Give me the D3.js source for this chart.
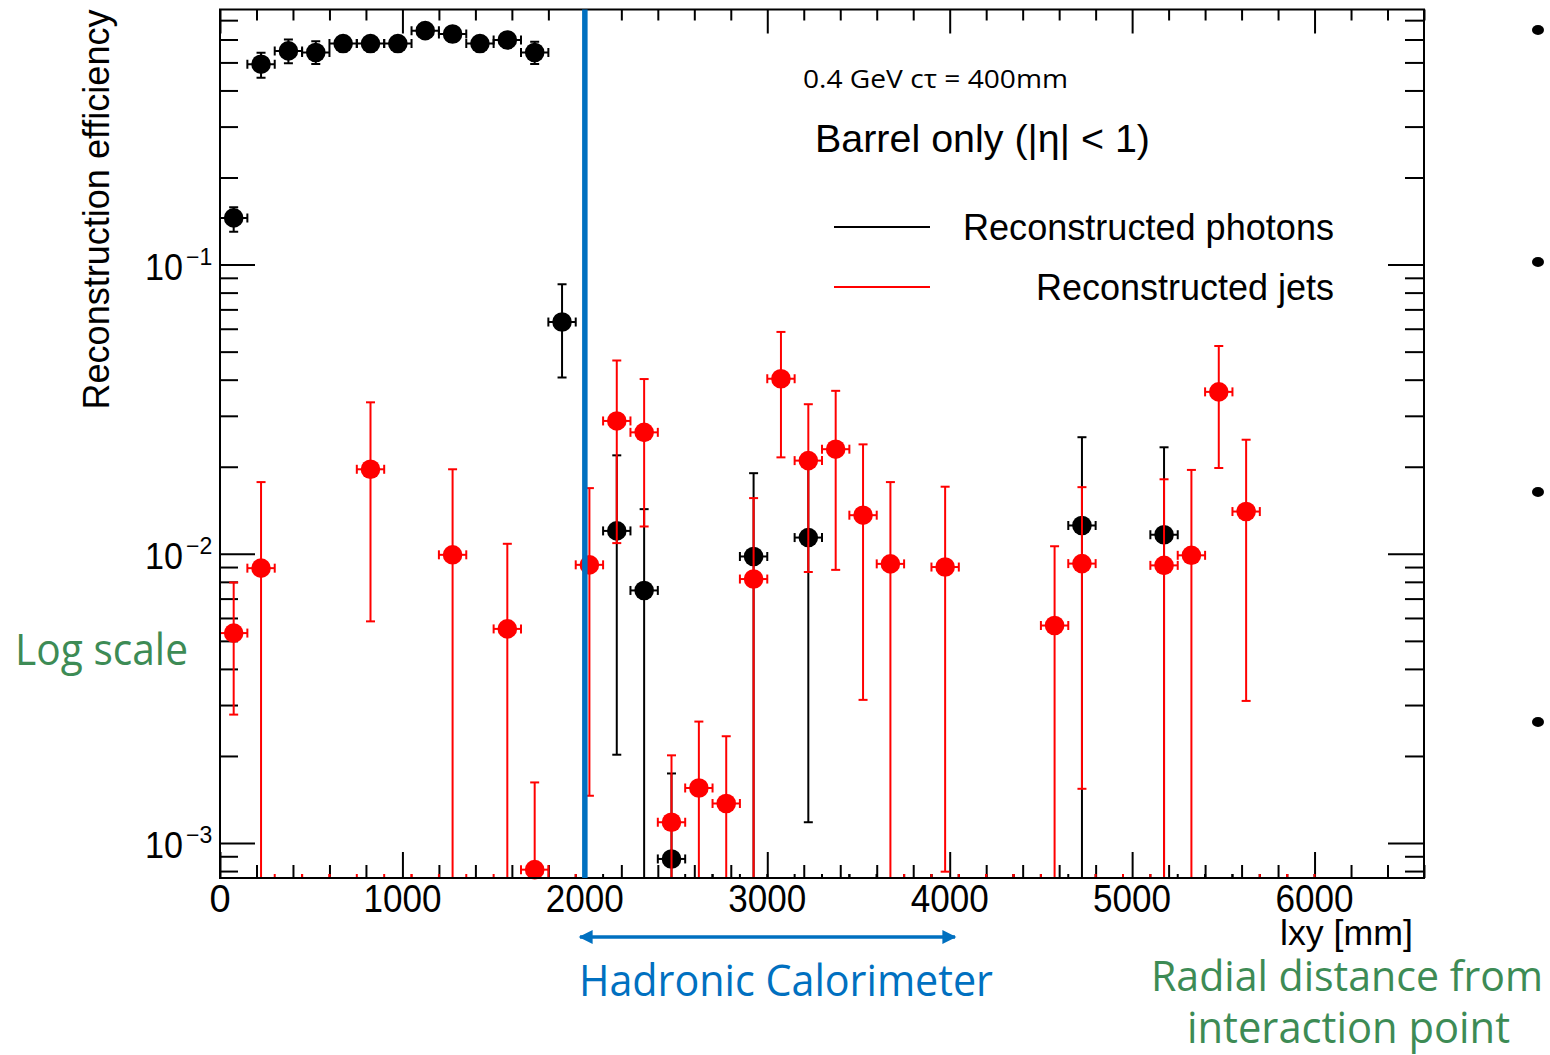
<!DOCTYPE html>
<html>
<head>
<meta charset="utf-8">
<script src="https://cdn.jsdelivr.net/npm/d3@7"></script>
<style>
  body { margin: 0; background: #fff; }
  text { font-family: "Liberation Sans", Arial, sans-serif; }
  .note { font-family: "Open Sans", "Noto Sans", sans-serif; }
</style>
</head>
<body>
<div id="chart"></div>
<script>
// bin centers (mm), efficiency, upper / lower edge of error bar (0 = down to axis)
var photonX  = [75, 225, 375, 525, 675, 825, 975, 1125, 1275, 1425, 1575, 1725, 1875, 2175, 2325, 2475, 2925, 3225, 4725, 5175];
var photonY  = [0.145, 0.493, 0.548, 0.541, 0.581, 0.581, 0.581, 0.644, 0.627, 0.581, 0.598, 0.541, 0.0633, 0.0120, 0.00747, 0.000881, 0.00979, 0.01138, 0.01253, 0.01164];
var photonHi = [0.158, 0.540, 0.600, 0.592, 0.615, 0.615, 0.615, 0.680, 0.662, 0.615, 0.632, 0.590, 0.0855, 0.0219, 0.01427, 0.00174, 0.0190, 0.0215, 0.0253, 0.02335];
var photonLo = [0.130, 0.443, 0.497, 0.494, 0.545, 0.545, 0.545, 0.608, 0.590, 0.545, 0.562, 0.494, 0.0407, 0.00202, 0, 0, 0, 0.00118, 0, 0];
var photonZeroX = [2025, 2625, 2775, 3075, 3375, 3525, 3675, 3825, 3975, 4125, 4275, 4425, 4575, 4875, 5025, 5325, 5475, 5625, 5775, 5925];

var jetX  = [75, 225, 825, 1275, 1575, 1725, 2025, 2175, 2325, 2475, 2625, 2775, 2925, 3075, 3225, 3375, 3525, 3675, 3975, 4575, 4725, 5175, 5325, 5475, 5625];
var jetY  = [0.00532, 0.00892, 0.0196, 0.00992, 0.0055, 0.000809, 0.00916, 0.0288, 0.0263, 0.00118, 0.00155, 0.00137, 0.00818, 0.0403, 0.0210, 0.0230, 0.0136, 0.00923, 0.0090, 0.00565, 0.00925, 0.00912, 0.00988, 0.0363, 0.0140];
var jetHi = [0.00796, 0.0177, 0.0334, 0.0196, 0.01083, 0.00162, 0.01687, 0.0466, 0.0402, 0.00201, 0.00263, 0.00234, 0.01558, 0.0585, 0.0329, 0.0366, 0.0239, 0.0177, 0.01706, 0.01062, 0.0170, 0.0181, 0.0195, 0.0523, 0.0248];
var jetLo = [0.00278, 0, 0.00584, 0, 0, 0, 0.001457, 0.01089, 0.01243, 0, 0, 0, 0, 0.02155, 0.00865, 0.0088, 0.003126, 0, 0.000796, 0, 0.00154, 0, 0, 0.0198, 0.0031];
var jetZeroX = [375, 525, 675, 975, 1125, 1425, 1875, 3825, 4125, 4275, 4425, 4875, 5025, 5775, 5925];

var binHalf = 75;
var xMajor = [0, 1000, 2000, 3000, 4000, 5000, 6000];
var xLabels = ["0", "1000", "2000", "3000", "4000", "5000", "6000"];
var yMajor = [0.1, 0.01, 0.001];
var yExp = ["\u22121", "\u22122", "\u22123"];

var svgWidth = 1550, svgHeight = 1055;
var frame = { left: 220, right: 1424, top: 9.5, bottom: 878 };

var svg = d3.select("#chart").append("svg")
    .attr("width", svgWidth)
    .attr("height", svgHeight);

var x = d3.scaleLinear().domain([0, 6600]).range([frame.left, frame.right]);
var y = d3.scaleLog().domain([0.000757, 0.762]).range([frame.bottom, frame.top]);

// minor ticks
var xMinor = d3.range(0, 6601, 200).filter(function(d) { return d % 1000 != 0; });
var yMinor = [];
[0.0001, 0.001, 0.01, 0.1].forEach(function(dec) {
  for (var k = 2; k <= 9; k++) {
    var v = k * dec;
    if (v >= y.domain()[0] && v <= y.domain()[1]) yMinor.push(v);
  }
});

function drawAxis(axis, tx, ty) {
  var g = svg.append("g").attr("transform", "translate(" + tx + "," + ty + ")").call(axis);
  g.select(".domain").remove();
  g.selectAll("line").attr("stroke", "#000").attr("stroke-width", 2);
  g.selectAll("text").remove();
}
drawAxis(d3.axisTop(x).tickValues(xMajor).tickSize(26), 0, frame.bottom);
drawAxis(d3.axisTop(x).tickValues(xMinor).tickSize(13), 0, frame.bottom);
drawAxis(d3.axisBottom(x).tickValues(xMajor).tickSize(24), 0, frame.top);
drawAxis(d3.axisBottom(x).tickValues(xMinor).tickSize(11), 0, frame.top);
drawAxis(d3.axisRight(y).tickValues(yMajor).tickSize(35), frame.left, 0);
drawAxis(d3.axisRight(y).tickValues(yMinor).tickSize(18), frame.left, 0);
drawAxis(d3.axisLeft(y).tickValues(yMajor).tickSize(36), frame.right, 0);
drawAxis(d3.axisLeft(y).tickValues(yMinor).tickSize(19), frame.right, 0);

svg.append("defs").append("clipPath").attr("id", "clip")
  .append("rect")
  .attr("x", frame.left).attr("y", frame.top)
  .attr("width", frame.right - frame.left).attr("height", frame.bottom - frame.top + 2);

var plot = svg.append("g").attr("clip-path", "url(#clip)");

function yc(v) { return v <= 0 ? frame.bottom : Math.min(y(v), frame.bottom); }

function drawGraph(xs, ys, his, los, zeros, color) {
  var g = plot.append("g").attr("stroke", color).attr("fill", color).attr("stroke-width", 2);
  var cap = 4.5, hw = x(binHalf) - x(0);
  xs.forEach(function(xv, i) {
    var cx = x(xv), cy = y(ys[i]), top = yc(his[i]), bot = yc(los[i]);
    g.append("line").attr("x1", cx).attr("x2", cx).attr("y1", top).attr("y2", bot);
    g.append("line").attr("x1", cx - cap).attr("x2", cx + cap).attr("y1", top).attr("y2", top);
    g.append("line").attr("x1", cx - cap).attr("x2", cx + cap).attr("y1", bot).attr("y2", bot);
    g.append("line").attr("x1", cx - hw).attr("x2", cx + hw).attr("y1", cy).attr("y2", cy);
    g.append("line").attr("x1", cx - hw).attr("x2", cx - hw).attr("y1", cy - cap).attr("y2", cy + cap);
    g.append("line").attr("x1", cx + hw).attr("x2", cx + hw).attr("y1", cy - cap).attr("y2", cy + cap);
  });
  // empty bins: only the horizontal bar ends peek above the axis
  zeros.forEach(function(xv) {
    var cx = x(xv);
    g.append("line").attr("x1", cx - hw).attr("x2", cx - hw).attr("y1", frame.bottom - 4).attr("y2", frame.bottom + 1);
    g.append("line").attr("x1", cx + hw).attr("x2", cx + hw).attr("y1", frame.bottom - 4).attr("y2", frame.bottom + 1);
  });
  g.selectAll("circle.m").data(xs).enter().append("circle")
    .attr("class", "m")
    .attr("cx", function(d) { return x(d); })
    .attr("cy", function(d, i) { return y(ys[i]); })
    .attr("r", 9.8)
    .attr("stroke", "none");
}
drawGraph(photonX, photonY, photonHi, photonLo, photonZeroX, "#000");
drawGraph(jetX, jetY, jetHi, jetLo, jetZeroX, "#ff0000");

// frame
svg.append("rect")
  .attr("x", frame.left).attr("y", frame.top)
  .attr("width", frame.right - frame.left).attr("height", frame.bottom - frame.top)
  .attr("fill", "none").attr("stroke", "#000").attr("stroke-width", 2);

// calorimeter boundary
svg.append("line")
  .attr("x1", x(2000)).attr("x2", x(2000))
  .attr("y1", frame.top).attr("y2", frame.bottom)
  .attr("stroke", "#0070C0").attr("stroke-width", 5.5);

// tick labels
xMajor.forEach(function(v, i) {
  var t = svg.append("text")
    .attr("x", x(v)).attr("y", 912)
    .attr("text-anchor", "middle")
    .attr("font-size", 38)
    .text(xLabels[i]);
  if (xLabels[i].length > 1) t.attr("textLength", 78).attr("lengthAdjust", "spacingAndGlyphs");
});
yMajor.forEach(function(v, i) {
  var t = svg.append("text").attr("x", 145).attr("y", y(v) + 15).attr("font-size", 37);
  t.append("tspan").text("10").attr("textLength", 38).attr("lengthAdjust", "spacingAndGlyphs");
  t.append("tspan").attr("font-size", 23).attr("dx", 3).attr("dy", -15).text(yExp[i]);
});

// axis titles
svg.append("text")
  .attr("transform", "translate(109," + frame.top + ") rotate(-90)")
  .attr("text-anchor", "end")
  .attr("font-size", 36)
  .attr("textLength", 400).attr("lengthAdjust", "spacingAndGlyphs")
  .text("Reconstruction efficiency");
svg.append("text")
  .attr("x", 1280).attr("y", 945)
  .attr("font-size", 35)
  .attr("textLength", 133).attr("lengthAdjust", "spacingAndGlyphs")
  .text("lxy [mm]");

// labels inside the plot
svg.append("text").attr("class", "note")
  .attr("x", 803).attr("y", 88)
  .attr("font-size", 25)
  .attr("textLength", 265).attr("lengthAdjust", "spacingAndGlyphs")
  .text("0.4 GeV c\u03c4 = 400mm");
svg.append("text")
  .attr("x", 815).attr("y", 152)
  .attr("font-size", 39)
  .attr("textLength", 335).attr("lengthAdjust", "spacingAndGlyphs")
  .text("Barrel only (|\u03b7| < 1)");

// legend
var legendNames = ["Reconstructed photons", "Reconstructed jets"];
var legendColors = ["#000", "#ff0000"];
var legendWidths = [371, 298];
legendNames.forEach(function(name, i) {
  var ly = 227 + i * 60;
  svg.append("line").attr("x1", 834).attr("x2", 930).attr("y1", ly).attr("y2", ly)
    .attr("stroke", legendColors[i]).attr("stroke-width", 2);
  svg.append("text")
    .attr("x", 1334).attr("y", ly + 13)
    .attr("text-anchor", "end")
    .attr("font-size", 37)
    .attr("textLength", legendWidths[i]).attr("lengthAdjust", "spacingAndGlyphs")
    .text(name);
});

// slide annotations
var blue = "#0070C0", green = "#3d8b55";
svg.append("defs").append("marker")
  .attr("id", "arr").attr("viewBox", "0 0 10 10")
  .attr("refX", 9).attr("refY", 5)
  .attr("markerWidth", 4.5).attr("markerHeight", 4)
  .attr("orient", "auto-start-reverse")
  .append("path").attr("d", "M0,0 L10,5 L0,10 z").attr("fill", blue);
svg.append("line")
  .attr("x1", 580).attr("x2", 955).attr("y1", 937).attr("y2", 937)
  .attr("stroke", blue).attr("stroke-width", 3.5)
  .attr("marker-start", "url(#arr)").attr("marker-end", "url(#arr)");
svg.append("text").attr("class", "note")
  .attr("x", 579).attr("y", 996).attr("font-size", 43).attr("fill", blue)
  .attr("textLength", 414).attr("lengthAdjust", "spacingAndGlyphs")
  .text("Hadronic Calorimeter");
svg.append("text").attr("class", "note")
  .attr("x", 15).attr("y", 665).attr("font-size", 43).attr("fill", green)
  .attr("textLength", 173).attr("lengthAdjust", "spacingAndGlyphs")
  .text("Log scale");
svg.append("text").attr("class", "note")
  .attr("x", 1151).attr("y", 991).attr("font-size", 42).attr("fill", green)
  .attr("textLength", 392).attr("lengthAdjust", "spacingAndGlyphs")
  .text("Radial distance from");
svg.append("text").attr("class", "note")
  .attr("x", 1187).attr("y", 1043).attr("font-size", 43).attr("fill", green)
  .attr("textLength", 323).attr("lengthAdjust", "spacingAndGlyphs")
  .text("interaction point");

// bullets of the slide text cut off on the right
[30, 262, 492, 722].forEach(function(by) {
  svg.append("ellipse").attr("cx", 1538).attr("cy", by).attr("rx", 6).attr("ry", 5).attr("fill", "#000");
});
</script>
</body>
</html>
